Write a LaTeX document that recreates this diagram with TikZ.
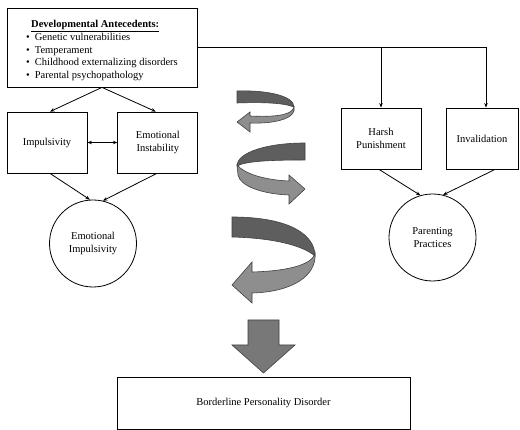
\documentclass[tikz,border=0pt]{standalone}
\usepackage{fontspec}
\setmainfont{Liberation Serif}
\usetikzlibrary{arrows.meta,positioning}
\definecolor{ribbondark}{HTML}{5E5E5E}
\definecolor{ribbonlight}{HTML}{8E8E8E}
\definecolor{blockgray}{HTML}{787878}

\begin{document}
\begin{tikzpicture}[x=1pt, y=-1pt, >={Stealth[length=4.5pt,width=3.5pt]}, line width=0.8pt,
    every node/.style={font=\fontsize{10.5}{12.5}\selectfont, align=center},
    factor/.style={draw, minimum width=80pt, minimum height=61pt, inner sep=2pt},
    latent/.style={draw, circle, minimum size=87pt, inner sep=1pt},
    backband/.style={draw=black!75, line width=0.6pt, fill=ribbondark},
    frontband/.style={draw=black!75, line width=0.6pt, fill=ribbonlight}]
    \useasboundingbox (0,0) rectangle (520,430);

    \node[draw, minimum width=190pt, minimum height=79pt, inner sep=0pt] (ante) at (102,47.5) {%
        \begin{tabular}{@{}l@{\hspace{5pt}}l@{}}
            \multicolumn{2}{@{\hspace{5pt}}l@{}}{\rule{0pt}{14.5pt}\underline{\textbf{Developmental Antecedents:}}}\\
            \textbullet & Genetic vulnerabilities\\
            \textbullet & Temperament\\
            \textbullet & Childhood externalizing disorders\\
            \textbullet & Parental psychopathology
        \end{tabular}};
    \node[factor] (imp) at (47,142.5) {Impulsivity};
    \node[factor, right=30pt of imp] (instab) {Emotional\\Instability};
    \node[latent] (emoimp) at (93,243.5) {Emotional\\Impulsivity};

    \node[factor] (harsh) at (381,138.5) {Harsh\\Punishment};
    \node[factor, minimum width=72pt] (inval) at (482,138.5) {Invalidation};
    \node[latent] (parent) at (432.5,237.5) {Parenting\\Practices};

    \node[draw, minimum width=293pt, minimum height=52pt] (bpd) at (263.5,403) {Borderline Personality Disorder};

    \coordinate (split) at (486,47.5);
    \draw (ante.east) -- (split);
    \draw[->] (harsh.north |- ante.east) -- (harsh.north);
    \draw[->] (split) -- (split |- inval.north);
    \draw[->] (ante.south) -- ([xshift=3pt]imp.north);
    \draw[->] (ante.south) -- ([xshift=-2pt]instab.north);
    \draw[<->] (imp) -- (instab);
    \draw[->] ([xshift=3pt]imp.south) -- (emoimp.94);
    \draw[->] ([xshift=-1pt]instab.south) -- (emoimp.77);
    \draw[->] ([xshift=-2pt]harsh.south) -- (parent.106);
    \draw[->] ([xshift=13pt]inval.south) -- (parent.76);

    % spiral arrows
    \filldraw[backband] (237,91) .. controls (268,90) and (294,96) .. (294,107)
        .. controls (284,103) and (264,102) .. (237,103) -- cycle;
    \filldraw[frontband] (294,107) .. controls (292,116) and (272,117) .. (250,116)
        -- (250,112) -- (237,122) -- (250,132) -- (250,123)
        .. controls (276,124) and (297,118) .. (294,107) -- cycle;

    \filldraw[backband] (305,143) .. controls (268,143) and (237,152) .. (237,166)
        .. controls (246,161) and (272,160) .. (305,160) -- cycle;
    \filldraw[frontband] (237,165) .. controls (245,174) and (265,180) .. (289,181)
        -- (289,175) -- (305,189) -- (289,204) -- (289,195)
        .. controls (262,194) and (240,186) .. (238,175) -- cycle;

    \filldraw[backband] (232,217) .. controls (290,217) and (315,235) .. (315,256)
        .. controls (302,245) and (272,238) .. (232,237) -- cycle;
    \filldraw[frontband] (315,253) .. controls (313,264) and (290,271) .. (252,272)
        -- (252,262) -- (232,285) -- (252,303) -- (252,293)
        .. controls (292,292) and (317,276) .. (315,253) -- cycle;

    % block arrow
    \filldraw[draw=black!75, line width=0.6pt, fill=blockgray] (248,320) -- (279,320) -- (279,345) -- (295,345)
        -- (263.5,373) -- (232,345) -- (248,345) -- cycle;
\end{tikzpicture}
\end{document}
